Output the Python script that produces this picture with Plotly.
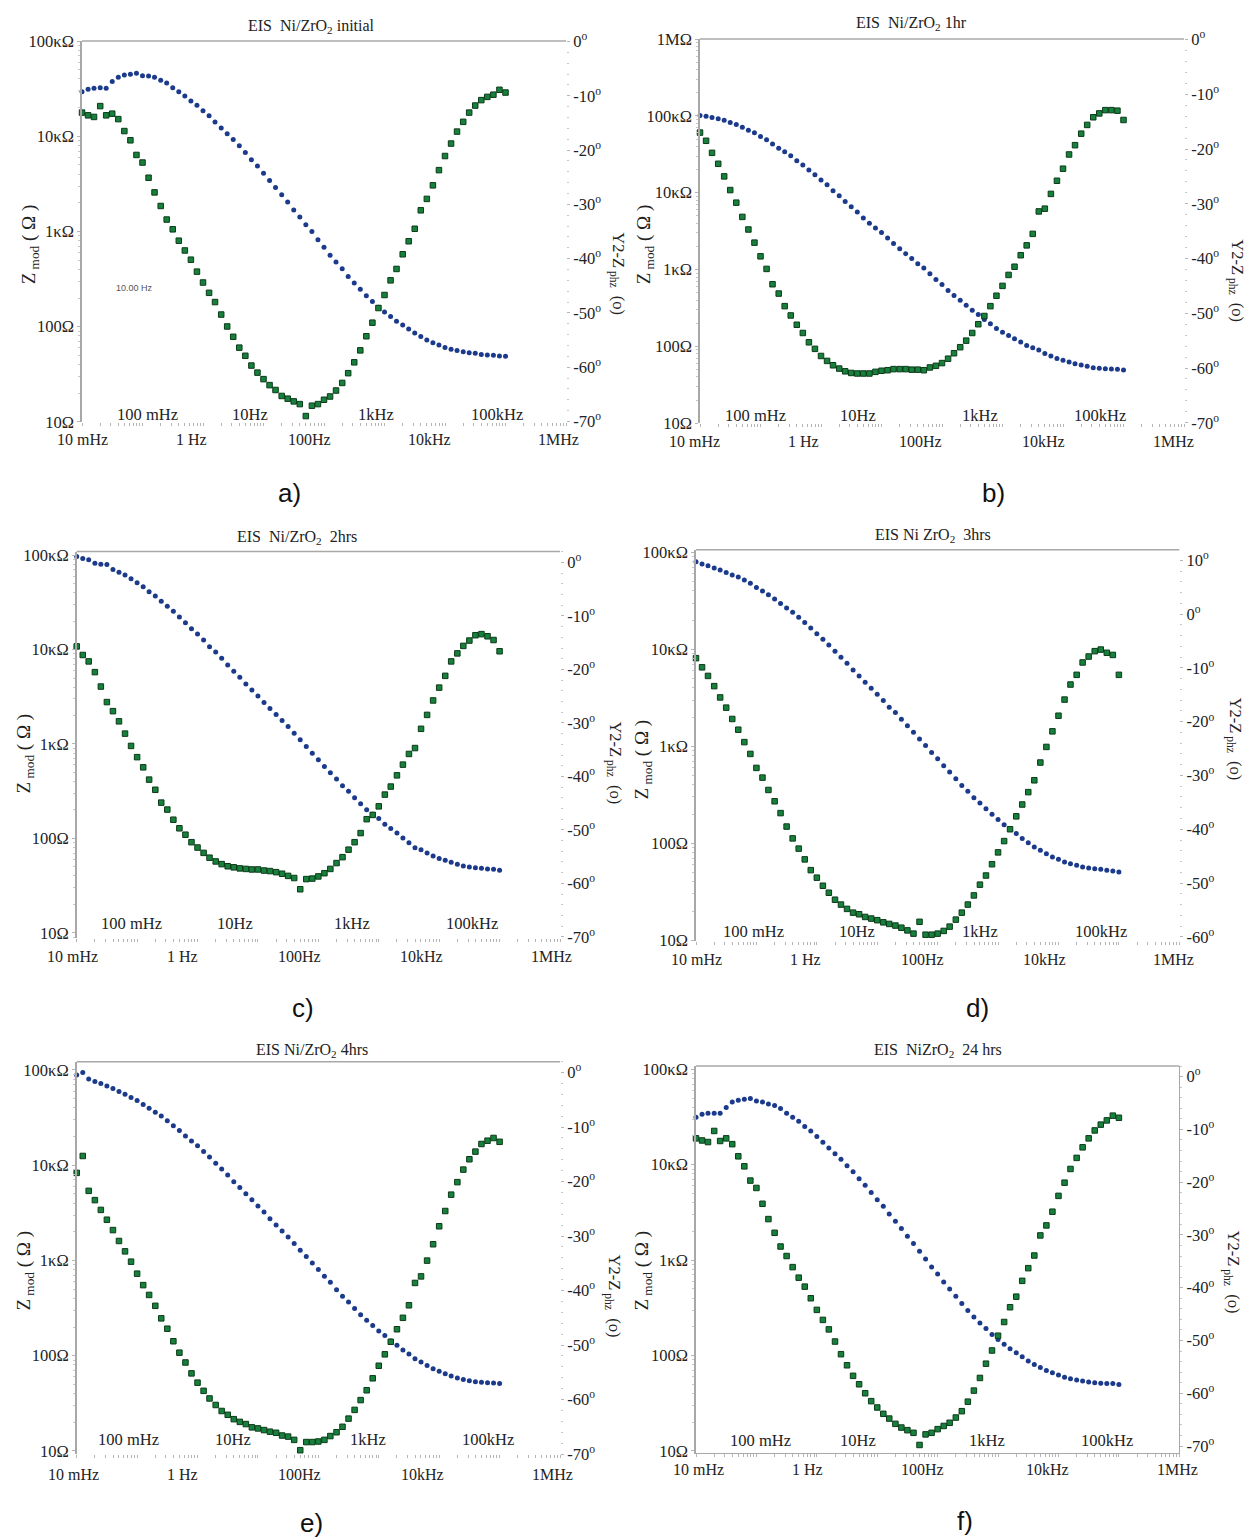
import plotly.graph_objects as go

# ---------------- data ----------------
FREQ_HZ = [
    0.01, 0.0126, 0.0158, 0.02, 0.0251, 0.0316, 0.0398, 0.0501, 0.0631, 0.0794,
    0.1, 0.126, 0.158, 0.2, 0.251, 0.316, 0.398, 0.501, 0.631, 0.794,
    1, 1.26, 1.58, 2, 2.51, 3.16, 3.98, 5.01, 6.31, 7.94,
    10, 12.6, 15.8, 20, 25.1, 31.6, 39.8, 50.1, 63.1, 79.4,
    100, 126, 158, 200, 251, 316, 398, 501, 631, 794,
    1000, 1260, 1580, 2000, 2510, 3160, 3980, 5010, 6310, 7940,
    10000, 12600, 15800, 20000, 25100, 31600, 39800, 50100, 63100, 79400,
    100000]

Z_A = [29400, 31100, 31900, 32400, 31900, 37500, 41600, 44000, 44700, 45800,
       43300, 43000, 41600, 38700, 36300, 32400, 29400, 26500, 23500, 21200,
       18500, 16400, 14100, 12200, 10600, 9250, 7940, 6760, 5660, 4860,
       4100, 3440, 2900, 2430, 2040, 1680, 1420, 1180, 1000, 820,
       682, 562, 479, 405, 336, 288, 248, 211, 184, 160,
       143, 128, 114, 104, 94.4, 85.7, 79.1, 72.3, 67.8, 64.1,
       60.6, 57.8, 56.4, 54.6, 53.3, 52.5, 51.2, 50.4, 50.0, 49.2, 48.8]
PH_A = [-13.1, -13.6, -13.9, -11.9, -13.6, -13.3, -14.3, -16.5, -18.2, -20.9,
        -22.3, -25.1, -27.8, -30.3, -32.8, -34.6, -36.7, -38.5, -40.2, -42.4,
        -44.4, -46.3, -48.0, -50.3, -52.5, -54.4, -56.4, -57.9, -59.7, -61.0,
        -62.2, -63.3, -64.2, -65.3, -65.8, -66.3, -66.8, -69.0, -67.1, -66.8,
        -66.0, -65.4, -64.3, -62.9, -61.1, -59.1, -56.9, -54.3, -51.8, -49.1,
        -46.7, -44.0, -41.9, -39.2, -36.8, -34.5, -31.1, -29.0, -26.5, -23.7,
        -21.1, -18.8, -16.6, -14.8, -13.1, -11.8, -10.8, -10.2, -9.8, -8.9, -9.4]

Z_B = [101000, 99000, 95000, 91400, 87900, 81900, 77200, 71300, 65100, 60100,
       53900, 48800, 42900, 38000, 34100, 30300, 26000, 22900, 19700, 17100,
       14600, 12700, 10600, 9140, 7710, 6580, 5610, 4690, 4000, 3480,
       3030, 2580, 2180, 1870, 1610, 1390, 1190, 1050, 879, 741,
       638, 533, 459, 400, 344, 296, 261, 224, 197, 171,
       153, 139, 126, 114, 103, 96.1, 89.6, 81.1, 74.9, 69.8,
       65.8, 62.6, 59.6, 57.2, 55.0, 52.8, 51.8, 51.3, 50.8, 50.3, 49.3]
PH_B = [-17.0, -18.5, -20.7, -22.7, -25.0, -27.5, -29.8, -32.4, -34.7, -37.1,
        -39.6, -41.9, -44.7, -46.4, -48.7, -50.4, -52.1, -53.6, -55.3, -56.5,
        -57.8, -58.7, -59.5, -60.1, -60.6, -60.9, -61.0, -61.0, -61.0, -60.7,
        -60.5, -60.4, -60.2, -60.2, -60.2, -60.3, -60.3, -60.4, -59.9, -59.6,
        -59.1, -58.3, -57.3, -56.2, -55.0, -53.6, -52.0, -50.5, -48.7, -46.8,
        -45.0, -43.0, -41.5, -39.4, -37.6, -35.5, -31.4, -30.9, -28.2, -25.8,
        -23.6, -21.0, -19.3, -17.2, -15.6, -14.2, -13.5, -12.9, -12.9, -13.0, -14.7]

Z_C = [96800, 92200, 89300, 82300, 80300, 79700, 70500, 66100, 61500, 56200,
       51000, 46300, 40900, 36900, 32600, 28700, 25400, 22100, 19300, 16600,
       14600, 12600, 10700, 9420, 8080, 6870, 5890, 5090, 4330, 3740,
       3230, 2750, 2370, 2050, 1770, 1530, 1300, 1110, 942, 800,
       680, 578, 495, 425, 361, 315, 270, 233, 201, 180,
       162, 141, 127, 114, 101, 90.1, 79.8, 76.0, 70.0, 65.1,
       61.1, 58.6, 55.8, 53.2, 51.1, 49.8, 48.9, 48.3, 47.5, 47.1, 46.0]
PH_C = [-15.7, -17.3, -18.5, -20.5, -23.2, -26.1, -27.8, -29.7, -32.0, -34.3,
        -36.4, -38.3, -40.6, -42.5, -44.9, -46.2, -48.1, -49.7, -50.9, -52.3,
        -53.3, -54.3, -55.2, -55.9, -56.4, -56.8, -57.0, -57.2, -57.3, -57.4,
        -57.4, -57.6, -57.7, -57.9, -58.2, -58.6, -59.0, -61.1, -59.2, -59.1,
        -58.7, -58.1, -57.3, -56.2, -55.1, -53.7, -52.3, -50.6, -48.0, -47.2,
        -45.6, -43.4, -41.9, -39.8, -37.8, -35.8, -34.7, -31.1, -28.5, -25.8,
        -23.4, -21.2, -18.5, -17.0, -15.6, -14.6, -13.6, -13.4, -13.8, -14.5, -16.6]

Z_D = [80100, 75800, 72900, 69000, 65800, 62200, 58400, 55700, 51900, 48000,
       43600, 40000, 36600, 33100, 29800, 26700, 24100, 21400, 18900, 16600,
       14500, 12700, 11100, 9550, 8280, 7190, 6140, 5320, 4580, 3970,
       3450, 2960, 2530, 2230, 1900, 1630, 1400, 1190, 1020, 863,
       743, 630, 542, 462, 395, 343, 295, 260, 227, 199,
       176, 155, 139, 126, 112, 101, 91.5, 84.5, 78.1, 72.2,
       68.3, 64.1, 61.6, 59.3, 56.9, 55.6, 54.7, 53.8, 52.6, 51.8, 50.6]
PH_D = [-8.2, -9.9, -11.5, -13.4, -15.5, -17.4, -19.5, -21.5, -23.8, -26.0,
        -28.6, -30.4, -32.7, -34.8, -37.0, -39.5, -41.7, -43.6, -45.6, -47.6,
        -49.0, -50.5, -51.8, -53.1, -54.0, -54.8, -55.5, -55.8, -56.3, -56.6,
        -56.9, -57.3, -57.6, -57.9, -58.3, -58.8, -59.4, -57.2, -59.6, -59.6,
        -59.4, -58.9, -58.1, -56.8, -55.5, -54.0, -52.3, -50.3, -48.6, -46.5,
        -44.3, -42.2, -40.0, -37.6, -35.4, -33.1, -30.9, -27.6, -24.7, -21.8,
        -18.9, -15.9, -13.1, -11.3, -9.0, -7.9, -6.9, -6.6, -7.2, -7.6, -11.3]

Z_E = [88600, 93800, 80500, 75500, 71900, 68000, 63700, 59300, 55600, 51300,
       47700, 43300, 39700, 36000, 32900, 29200, 25900, 23100, 20300, 18000,
       16000, 13900, 12200, 10500, 9100, 7870, 6700, 5850, 5010, 4340,
       3730, 3220, 2740, 2350, 2040, 1760, 1510, 1280, 1100, 942,
       802, 682, 590, 494, 421, 367, 313, 270, 236, 207,
       182, 163, 143, 129, 115, 104, 92.9, 85.7, 79.1, 73.0,
       68.9, 64.6, 61.1, 58.2, 56.4, 54.6, 53.3, 52.5, 52.1, 51.6, 51.2]
PH_E = [-18.4, -15.3, -21.7, -23.4, -25.2, -27.0, -28.9, -30.9, -32.8, -34.7,
        -36.9, -39.0, -40.8, -42.8, -45.1, -47.0, -49.3, -51.4, -53.2, -55.2,
        -56.9, -58.4, -59.8, -61.0, -62.1, -62.8, -63.6, -64.1, -64.5, -65.1,
        -65.3, -65.6, -65.9, -66.1, -66.6, -66.8, -67.4, -69.3, -67.8, -67.8,
        -67.7, -67.4, -66.7, -66.0, -65.0, -63.5, -61.9, -60.1, -58.3, -56.1,
        -53.8, -51.7, -49.4, -47.1, -45.0, -42.7, -38.6, -37.4, -34.5, -31.5,
        -28.2, -25.4, -22.4, -20.1, -17.8, -15.9, -14.5, -13.1, -12.5, -12.0, -12.7]

Z_F = [31500, 33800, 34700, 34700, 34700, 39700, 45500, 47400, 48500, 49300,
       46600, 45500, 43400, 41700, 38800, 34700, 31500, 28600, 25100, 22500,
       19800, 17200, 15000, 13000, 11400, 9740, 8430, 7120, 6110, 5120,
       4300, 3660, 3040, 2550, 2140, 1780, 1490, 1240, 1030, 849,
       716, 591, 499, 419, 351, 296, 254, 220, 192, 166,
       147, 131, 118, 107, 97.1, 87.5, 80.7, 75.0, 69.8, 66.1,
       62.4, 59.4, 57.1, 55.3, 54.0, 52.7, 51.9, 51.4, 51.0, 51.0, 49.8]
PH_F = [-11.7, -12.1, -12.4, -10.3, -12.2, -11.7, -12.8, -15.1, -17.0, -19.7,
        -21.1, -24.1, -27.0, -29.6, -32.2, -34.0, -36.1, -38.1, -39.8, -42.0,
        -44.2, -46.1, -47.9, -50.2, -52.6, -54.7, -56.7, -58.3, -60.0, -61.5,
        -62.7, -63.9, -64.8, -65.8, -66.5, -67.0, -67.5, -69.8, -67.8, -67.5,
        -66.8, -66.2, -65.6, -64.6, -63.4, -61.6, -59.5, -57.1, -54.4, -51.9,
        -49.1, -46.5, -43.7, -41.7, -38.7, -36.3, -33.9, -30.1, -28.2, -25.6,
        -22.6, -20.1, -17.5, -15.4, -13.4, -11.7, -10.2, -9.1, -8.3, -7.4, -7.8]

PANEL_TITLES = [
    "EIS  Ni/ZrO<sub>2</sub> initial",
    "EIS  Ni/ZrO<sub>2</sub> 1hr",
    "EIS  Ni/ZrO<sub>2</sub>  2hrs",
    "EIS Ni ZrO<sub>2</sub>  3hrs",
    "EIS Ni/ZrO<sub>2</sub> 4hrs",
    "EIS  NiZrO<sub>2</sub>  24 hrs",
]
PANEL_LETTERS = ["a)", "b)", "c)", "d)", "e)", "f)"]
Z_TICK_VALUES = [10, 100, 1000, 10000, 100000, 1000000]
Z_TICK_LABELS = ["10Ω", "100Ω", "1κΩ", "10κΩ", "100κΩ", "1MΩ"]
PHASE_TICKS_MAIN = [-70, -60, -50, -40, -30, -20, -10, 0]
PHASE_TICKS_D = [-60, -50, -40, -30, -20, -10, 0, 10]
X_LABELS_LOW = ["10 mHz", "1 Hz", "100Hz", "10kHz", "1MHz"]
X_LABELS_HIGH = ["100 mHz", "10Hz", "1kHz", "100kHz"]
Y_LEFT_TITLE = "Z<sub> mod</sub> ( Ω )"
Y_RIGHT_TITLE = "Y2-Z<sub> phz</sub>  (o)"

Z_SERIES = [Z_A, Z_B, Z_C, Z_D, Z_E, Z_F]
PH_SERIES = [PH_A, PH_B, PH_C, PH_D, PH_E, PH_F]
PH_TICKS = [PHASE_TICKS_MAIN, PHASE_TICKS_MAIN, PHASE_TICKS_MAIN,
            PHASE_TICKS_D, PHASE_TICKS_MAIN, PHASE_TICKS_MAIN]

# ---------------- layout / style ----------------
W, H = 1254, 1540
# the captured page maps figure pixel y to picture y as 9.3 + 0.988*y
Y_OFF, Y_SCALE = 9.3, 0.988
SERIF = "Liberation Serif"
BLUE = "#1b3a8c"
GREEN = "#17803c"
GREEN_EDGE = "#0b3a18"
AXIS_GRAY = "#a8a8a8"
TEXT = "#222222"

# plot boxes in picture pixels: x0, x1, ytop, ybottom
BOXES = [
    (82, 566, 39.3, 421),
    (700, 1184, 37.3, 422.3),
    (76.7, 560, 550.7, 938.3),
    (696, 1179.3, 549, 941),
    (76.7, 560, 1061.7, 1455),
    (696, 1179.3, 1066, 1453.3),
]
Z_RANGES = [(0.999, 5.001), (0.999, 6.001), (0.94, 5.039),
            (0.99, 5.027), (0.965, 5.087), (0.983, 5.035)]
PH_RANGES = [(-70.1, 0.1), (-70.1, 0.1), (-70.3, 2.05),
             (-60.8, 11.94), (-70.05, 2.01), (-71.25, 2.02)]
TITLE_POS = [(311, 25), (911, 22), (297, 537), (933, 535), (312, 1051), (938, 1051)]
LETTER_POS = [(289, 492), (993, 492), (303, 1008), (977, 1008), (311, 1524), (965, 1522)]
LEFT_TITLE_POS = [(30, 243), (645, 243), (25, 753), (643, 759), (25, 1271), (643, 1271)]
RIGHT_TITLE_POS = [(618, 272), (1237, 279), (615, 762), (1235, 738), (613, 1296), (1232, 1272)]
XLAB_LOW_REL = [[0, 109, 227, 348, 476], [-6, 103, 220, 343, 473], [-4, 106, 223, 345, 475],
                [0, 109, 226, 348, 477], [-3, 106, 223, 346, 476], [2, 111, 226, 351, 481]]
XLAB_HIGH_REL = [[65, 168, 294, 415], [55, 158, 280, 400], [55, 158, 275, 395],
                 [57, 161, 284, 405], [52, 156, 291, 411], [64, 162, 291, 411]]
XLAB_Y = [(439, 413), (441, 414), (956, 923), (959, 931), (1475, 1440), (1470, 1441)]
BOXED = [False, False, False, False, False, True]


def px(x):
    return x / W


def py(y):
    return 1 - ((y - Y_OFF) / Y_SCALE) / H


x_minor = [m * 10.0 ** k for k in range(-2, 6) for m in range(1, 10)] + [1e6]
z_minor = [m * 10.0 ** k for k in range(0, 7) for m in range(2, 10)]

fig = go.Figure()
layout = dict(
    width=W, height=H, autosize=False,
    margin=dict(l=0, r=0, t=0, b=0),
    paper_bgcolor="white", plot_bgcolor="white",
    showlegend=False,
    font=dict(family=SERIF, size=16, color=TEXT),
)
annotations = []
shapes = []

for i in range(6):
    n = i + 1
    xa = "x" if n == 1 else f"x{n}"
    yl_id = 2 * i + 1
    yr_id = 2 * i + 2
    yl = "y" if yl_id == 1 else f"y{yl_id}"
    yr = f"y{yr_id}"
    x0, x1, yt, yb = BOXES[i]

    fig.add_trace(go.Scatter(
        x=FREQ_HZ, y=Z_SERIES[i], xaxis=xa, yaxis=yl, mode="markers",
        marker=dict(symbol="circle", size=5, color=BLUE, line=dict(width=0)),
        cliponaxis=False, hoverinfo="skip"))
    fig.add_trace(go.Scatter(
        x=FREQ_HZ, y=PH_SERIES[i], xaxis=xa, yaxis=yr, mode="markers",
        marker=dict(symbol="square", size=5.5, color=GREEN,
                    line=dict(width=1, color=GREEN_EDGE)),
        cliponaxis=False, hoverinfo="skip"))

    xkey = "xaxis" if n == 1 else f"xaxis{n}"
    ylkey = "yaxis" if yl_id == 1 else f"yaxis{yl_id}"
    yrkey = f"yaxis{yr_id}"

    layout[xkey] = dict(
        type="log", range=[-2, 6], domain=[px(x0), px(x1)], anchor=yl,
        showgrid=False, zeroline=False, showticklabels=False,
        showline=BOXED[i], linecolor=AXIS_GRAY, linewidth=1,
        ticks="outside", tickvals=x_minor, ticklen=3, tickwidth=1,
        tickcolor="#b5b5b5",
    )
    layout[ylkey] = dict(
        type="log", range=list(Z_RANGES[i]), domain=[py(yb), py(yt)], anchor=xa,
        showgrid=False, zeroline=False,
        showline=True, linecolor=AXIS_GRAY, linewidth=1.5,
        ticks="outside", ticklen=3, tickcolor="#b5b5b5",
        tickvals=Z_TICK_VALUES, ticktext=Z_TICK_LABELS,
        tickfont=dict(family=SERIF, size=16.5, color=TEXT),
        minor=dict(tickvals=z_minor, ticks="outside", ticklen=2, tickcolor="#c8c8c8"),
    )
    ph_ticks = PH_TICKS[i]
    layout[yrkey] = dict(
        overlaying=yl, side="right", anchor=xa,
        range=list(PH_RANGES[i]),
        showgrid=False, zeroline=False,
        showline=BOXED[i], linecolor=AXIS_GRAY, linewidth=1,
        ticks="outside", ticklen=3, tickcolor="#b5b5b5",
        tickvals=ph_ticks, ticktext=[f"{v}<sup>o</sup>" for v in ph_ticks],
        tickfont=dict(family=SERIF, size=16.5, color=TEXT),
        minor=dict(dtick=2, ticks="outside", ticklen=2, tickcolor="#c8c8c8"),
    )

    # top frame line
    shapes.append(dict(type="line", xref="paper", yref="paper",
                       x0=px(x0), x1=px(x1), y0=py(yt), y1=py(yt),
                       line=dict(color=AXIS_GRAY, width=1.5)))

    tx, ty = TITLE_POS[i]
    annotations.append(dict(text=PANEL_TITLES[i], x=px(tx), y=py(ty), xref="paper", yref="paper",
                            showarrow=False, xanchor="center", yanchor="middle",
                            font=dict(family=SERIF, size=16, color=TEXT)))
    lx, ly = LETTER_POS[i]
    annotations.append(dict(text=PANEL_LETTERS[i], x=px(lx), y=py(ly), xref="paper", yref="paper",
                            showarrow=False, xanchor="center", yanchor="middle",
                            font=dict(family="Liberation Sans", size=26, color="#111111")))
    ax_, ay_ = LEFT_TITLE_POS[i]
    annotations.append(dict(text=Y_LEFT_TITLE, x=px(ax_), y=py(ay_), xref="paper", yref="paper",
                            showarrow=False, textangle=-90, xanchor="center", yanchor="middle",
                            font=dict(family=SERIF, size=19, color=TEXT)))
    bx, by = RIGHT_TITLE_POS[i]
    annotations.append(dict(text=Y_RIGHT_TITLE, x=px(bx), y=py(by), xref="paper", yref="paper",
                            showarrow=False, textangle=90, xanchor="center", yanchor="middle",
                            font=dict(family=SERIF, size=16.5, color=TEXT)))
    ylow, yhigh = XLAB_Y[i]
    for lab, rel in zip(X_LABELS_LOW, XLAB_LOW_REL[i]):
        annotations.append(dict(text=lab, x=px(x0 + rel), y=py(ylow), xref="paper", yref="paper",
                                showarrow=False, xanchor="center", yanchor="middle",
                                font=dict(family=SERIF, size=16, color=TEXT)))
    for lab, rel in zip(X_LABELS_HIGH, XLAB_HIGH_REL[i]):
        annotations.append(dict(text=lab, x=px(x0 + rel), y=py(yhigh), xref="paper", yref="paper",
                                showarrow=False, xanchor="center", yanchor="middle",
                                font=dict(family=SERIF, size=16.5, color=TEXT)))

annotations.append(dict(text="10.00 Hz", x=px(134), y=py(287), xref="paper", yref="paper",
                        showarrow=False, xanchor="center", yanchor="middle",
                        font=dict(family="Liberation Sans Narrow, Liberation Sans", size=9, color="#555555")))

layout["annotations"] = annotations
layout["shapes"] = shapes
fig.update_layout(**layout)
fig.write_html("out.html")
